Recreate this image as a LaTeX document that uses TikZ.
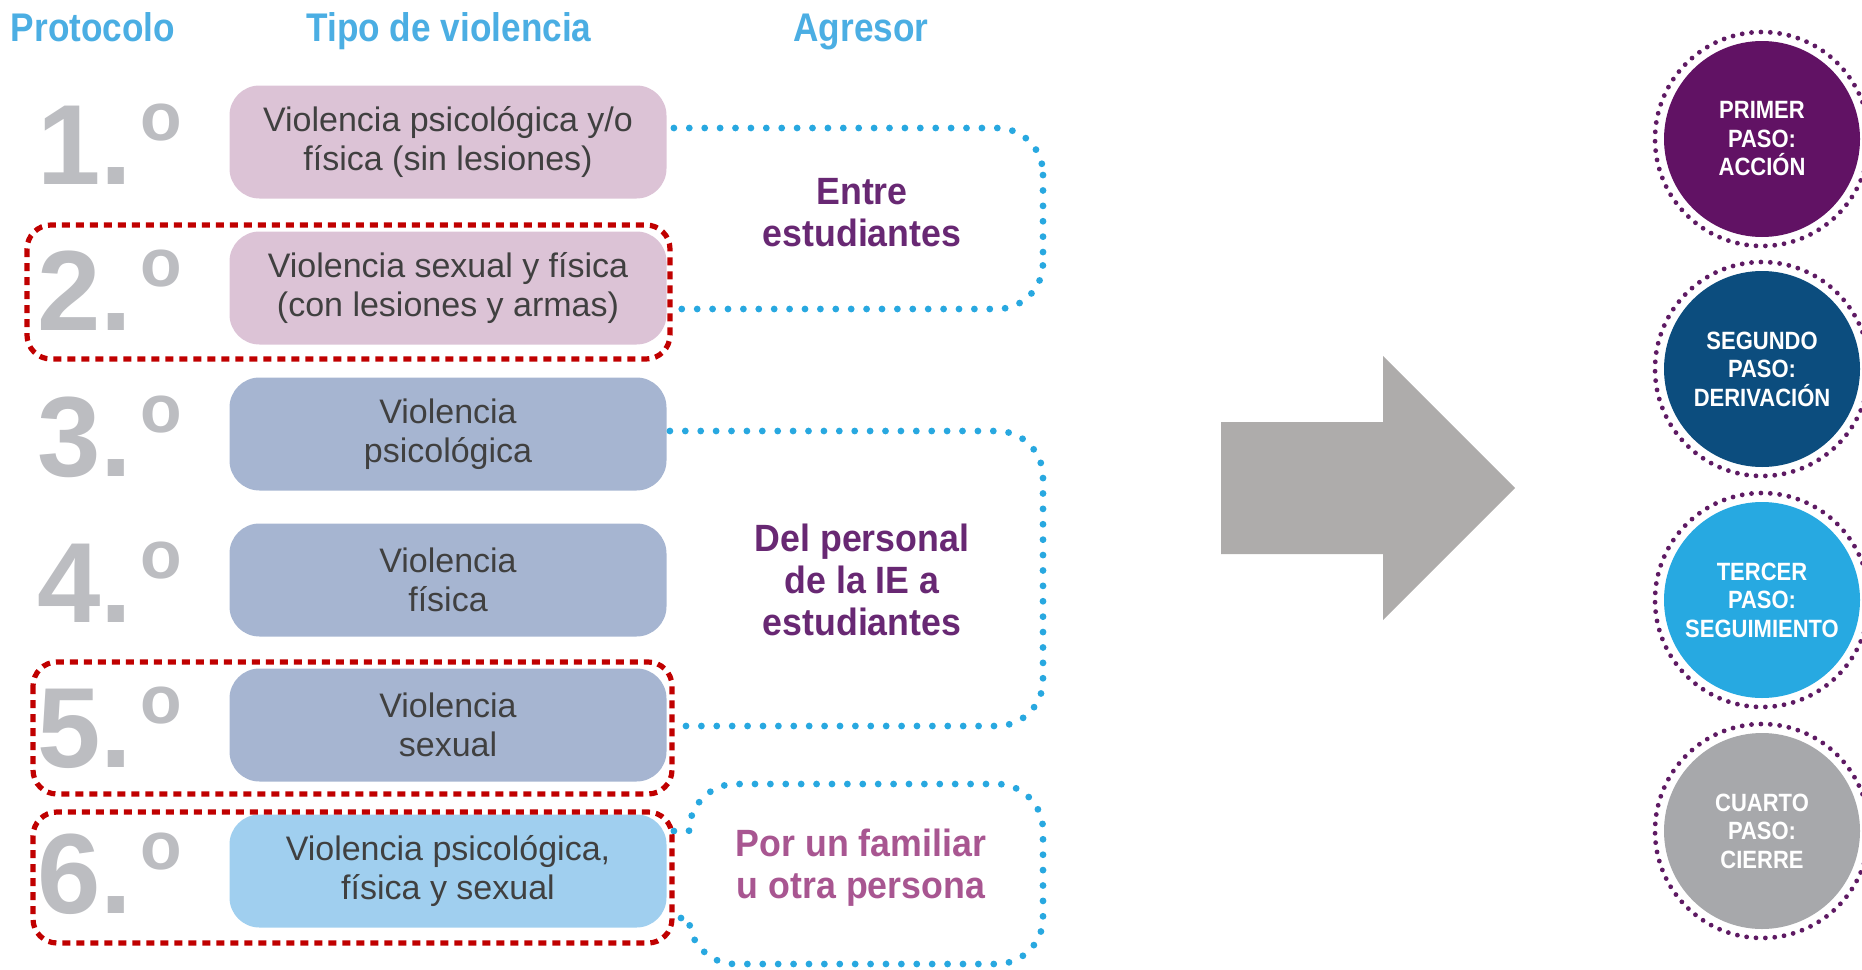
\documentclass[tikz,border=0pt]{standalone}
\usepackage{fontspec}
\setmainfont{Liberation Sans}
\newfontfamily\condsans[FakeStretch=0.88]{Liberation Sans}
\newfontfamily\semicond[FakeStretch=0.94]{Liberation Sans}
\usetikzlibrary{calc}
\definecolor{hdrblue}{RGB}{75,174,227}
\definecolor{numgray}{RGB}{188,189,193}
\definecolor{pinkbox}{RGB}{220,195,214}
\definecolor{slatebox}{RGB}{166,181,209}
\definecolor{skybox}{RGB}{160,207,239}
\definecolor{boxtext}{RGB}{64,64,64}
\definecolor{redline}{RGB}{192,0,0}
\definecolor{dotblue}{RGB}{40,168,224}
\definecolor{agpurple}{RGB}{104,40,115}
\definecolor{agmauve}{RGB}{168,86,145}
\definecolor{circpurple}{RGB}{97,18,100}
\definecolor{circnavy}{RGB}{12,77,126}
\definecolor{circsky}{RGB}{39,169,225}
\definecolor{circgray}{RGB}{167,168,171}
\definecolor{ringpurple}{RGB}{94,26,99}
\definecolor{arrowgray}{RGB}{174,172,171}
\newcommand{\ordo}{\hspace{4pt}\raisebox{22pt}{\fontsize{34}{34}\selectfont o}}
\begin{document}
\begin{tikzpicture}[x=0.5pt,y=-0.5pt,
 hdr/.style={anchor=base, text=hdrblue, font=\condsans\bfseries\fontsize{20}{22}\selectfont, inner sep=0pt},
 num/.style={anchor=base west, text=numgray, font=\bfseries\fontsize{57}{57}\selectfont, inner sep=0pt},
 vbox/.style={rounded corners=15pt, minimum width=218.5pt, minimum height=56.5pt, align=center, text=boxtext, font=\fontsize{17}{19.5}\selectfont, inner sep=0pt},
 redbox/.style={draw=redline, line width=2.6pt, dash pattern=on 4pt off 3pt, rounded corners=12pt},
 bluedot/.style={draw=dotblue, line width=3.4pt, line cap=round, dash pattern=on 0pt off 7.7pt},
 agr/.style={align=center, font=\semicond\bfseries\fontsize{19}{21}\selectfont},
 stepcirc/.style={circle, minimum size=98pt, inner sep=0pt, align=center, text=white, font=\condsans\bfseries\fontsize{12.5}{14.25}\selectfont},
 ring/.style={draw=ringpurple, line width=2.4pt, line cap=round, dash pattern=on 0pt off 4.7pt}
]
\useasboundingbox (0,0) rectangle (1862,969);

% headers
\node[hdr] (hp) at (93,41) {Protocolo};
\node[hdr] (ht) at (449,41) {Tipo de violencia};
\node[hdr] (ha) at (861,41) {Agresor};

% boxes
\node[vbox, fill=pinkbox] (b1) at (448,142) {Violencia psicológica y/o\\física (sin lesiones)};
\node[vbox, fill=pinkbox] (b2) at (448,288) {Violencia sexual y física\\(con lesiones y armas)};
\node[vbox, fill=slatebox] (b3) at (448,434) {Violencia\\psicológica};
\node[vbox, fill=slatebox] (b4) at (448,580) {Violencia\\física};
\node[vbox, fill=slatebox] (b5) at (448,725) {Violencia\\sexual};
\node[vbox, fill=skybox] (b6) at (448,871) {Violencia psicológica,\\física y sexual};

% numbers
\node[num] (n1) at (37,184) {1.\ordo};
\node[num] (n2) at (37,330) {2.\ordo};
\node[num] (n3) at (37,476) {3.\ordo};
\node[num] (n4) at (37,622) {4.\ordo};
\node[num] (n5) at (37,767) {5.\ordo};
\node[num] (n6) at (37,913) {6.\ordo};

% blue dotted brackets
\draw[bluedot, rounded corners=23pt] ($(b1.east)+(7,-14)$) -| (1043,218) |- ($(b2.east)+(4,21)$);
\draw[bluedot, rounded corners=23pt] ($(b3.east)+(3,-3)$) -| (1043,578) |- ($(b5.east)+(4,1)$);
\draw[bluedot] ($(b6.east)+(7,-40)$) -- (689,831)
  .. controls (689,806) and (710,784) .. (735,784) -- (997,784)
  .. controls (1022,784) and (1043,805) .. (1043,830) -- (1043,918)
  .. controls (1043,943) and (1022,964) .. (997,964) -- (735,964)
  .. controls (710,964) and (689,943) .. (689,918) -- ($(b6.east)+(7,47)$);

% red dashed frames
\draw[redbox] (27,225) rectangle (670,359);
\draw[redbox] (33,662) rectangle (672,794);
\draw[redbox] (33,812) rectangle (672,943);

% agresor texts
\node[agr, text=agpurple] (a1) at (862,213) {Entre\\estudiantes};
\node[agr, text=agpurple] (a2) at (862,580) {Del personal\\de la IE a\\estudiantes};
\node[agr, text=agmauve] (a3) at (861,868) {Por un familiar\\u otra persona};

% big arrow
\fill[arrowgray] (1221,422) -- (1383,422) -- (1383,356) -- (1515,488) -- (1383,620) -- (1383,554) -- (1221,554) -- cycle;

% steps
\node[stepcirc, fill=circpurple] (p1) at (1762,139) {PRIMER\\PASO:\\ACCIÓN};
\node[stepcirc, fill=circnavy] (p2) at (1762,369) {SEGUNDO\\PASO:\\DERIVACIÓN};
\node[stepcirc, fill=circsky] (p3) at (1762,600) {TERCER\\PASO:\\SEGUIMIENTO};
\node[stepcirc, fill=circgray] (p4) at (1762,831) {CUARTO\\PASO:\\CIERRE};
\draw[ring] (p1.center) circle[radius=53.5pt];
\draw[ring] (p2.center) circle[radius=53.5pt];
\draw[ring] (p3.center) circle[radius=53.5pt];
\draw[ring] (p4.center) circle[radius=53.5pt];
\end{tikzpicture}
\end{document}
